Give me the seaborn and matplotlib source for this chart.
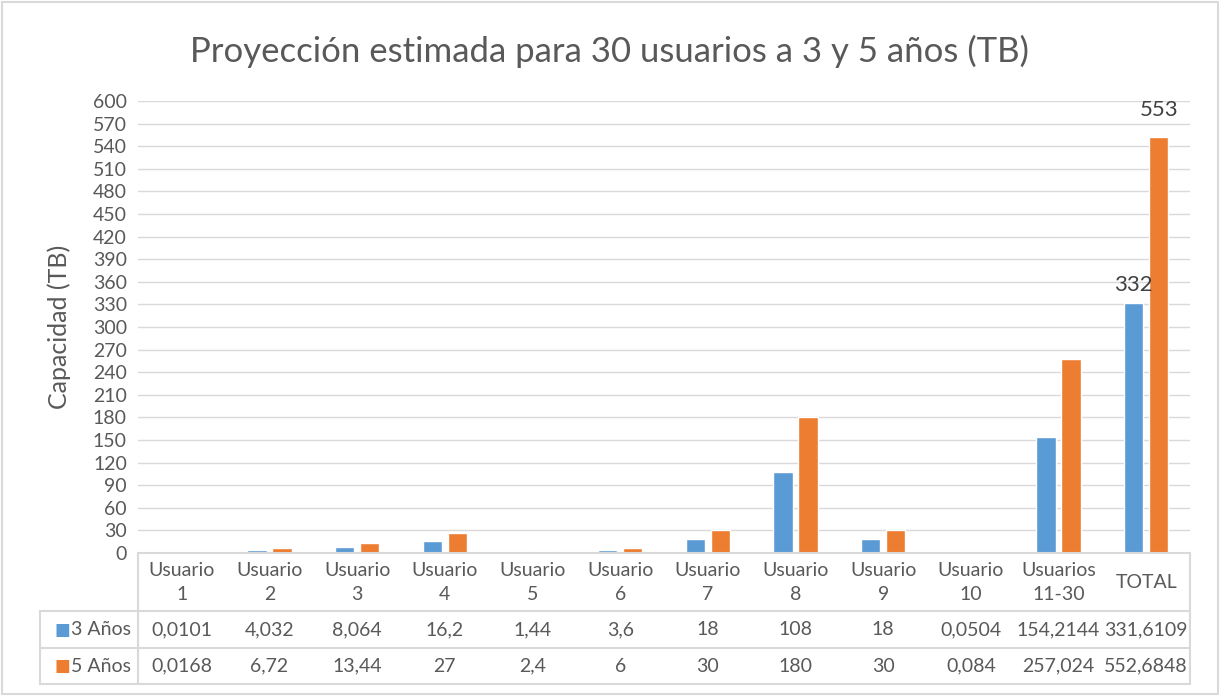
import matplotlib
matplotlib.use('Agg')
import matplotlib.pyplot as plt
import seaborn as sns
import pandas as pd

# datos
categorias = ['Usuario\n1', 'Usuario\n2', 'Usuario\n3', 'Usuario\n4', 'Usuario\n5', 'Usuario\n6',
              'Usuario\n7', 'Usuario\n8', 'Usuario\n9', 'Usuario\n10', 'Usuarios\n11-30', 'TOTAL']
tres_anios = [0.0101, 4.032, 8.064, 16.2, 1.44, 3.6, 18, 108, 18, 0.0504, 154.2144, 331.6109]
cinco_anios = [0.0168, 6.72, 13.44, 27, 2.4, 6, 30, 180, 30, 0.084, 257.024, 552.6848]
series = ['3 Años', '5 Años']
colores = ['#5B9BD5', '#ED7D31']

df = pd.DataFrame({
    'cat': categorias * 2,
    'valor': tres_anios + cinco_anios,
    'serie': [series[0]] * len(categorias) + [series[1]] * len(categorias),
})

gris = '#595959'
linea = '#D9D9D9'

sns.set_style('white')
plt.rcParams['font.family'] = ['Lato', 'DejaVu Sans']

fig = plt.figure(figsize=(12.2, 6.96), dpi=100)
W, H = 1220, 696
ax = fig.add_axes([138 / W, 1 - 553 / H, (1190 - 138) / W, (553 - 101) / H])

sns.barplot(data=df, x='cat', y='valor', hue='serie', palette=colores, width=0.57, gap=0.22,
            ax=ax, legend=False, saturation=1)

n = len(categorias)
ax.set_xlim(-0.5, n - 0.5)
ax.set_ylim(0, 600)
ax.set_yticks(range(0, 601, 30))
ax.tick_params(axis='y', labelsize=14, colors=gris, length=0, pad=8)
ax.set_xticks([])
ax.set_xlabel('')
ax.set_ylabel('Capacidad (TB)', fontsize=18, color=gris, labelpad=16)
ax.yaxis.grid(True, color=linea, linewidth=1)
ax.set_axisbelow(True)
for s in ax.spines.values():
    s.set_visible(False)

# etiquetas del TOTAL
ax.annotate(f'{tres_anios[-1]:.0f}', xy=(n - 1 - 0.1425, tres_anios[-1]), xytext=(0, 6),
            textcoords='offset points', ha='center', va='bottom', fontsize=16, color='#404040')
ax.annotate(f'{cinco_anios[-1]:.0f}', xy=(n - 1 + 0.1425, cinco_anios[-1]), xytext=(0, 12),
            textcoords='offset points', ha='center', va='bottom', fontsize=16, color='#404040')

fig.suptitle('Proyección estimada para 30 usuarios a 3 y 5 años (TB)', fontsize=25, color=gris, y=0.95)

# tabla de datos
tr = ax.get_xaxis_transform()
alto = 553 - 101
y1 = -(611 - 553) / alto
y2 = -(648 - 553) / alto
y3 = -(684 - 553) / alto
xl = -(138 - 40) / (1190 - 138)
kw = dict(transform=ax.transAxes, color=linea, linewidth=1.5, clip_on=False)
ax.plot([0, 1], [0, 0], **kw)
for y in (y1, y2, y3):
    ax.plot([xl, 1], [y, y], **kw)
ax.plot([xl, xl], [y1, y3], **kw)
ax.plot([0, 0], [0, y3], **kw)
ax.plot([1, 1], [0, y3], **kw)

def fmt(v):
    s = str(v)
    if s.endswith('.0'):
        s = s[:-2]
    return s.replace('.', ',')

for i, c in enumerate(categorias):
    ax.text(i, y1 / 2, c, transform=tr, ha='center', va='center', fontsize=14, color=gris,
            linespacing=1.5)
    ax.text(i, (y1 + y2) / 2, fmt(tres_anios[i]), transform=tr, ha='center', va='center',
            fontsize=14, color=gris)
    ax.text(i, (y2 + y3) / 2, fmt(cinco_anios[i]), transform=tr, ha='center', va='center',
            fontsize=14, color=gris)

for nombre, col, y in zip(series, colores, [(y1 + y2) / 2, (y2 + y3) / 2]):
    ax.text(xl + 0.014, y, '■', transform=ax.transAxes, ha='left', va='center', fontsize=12,
            color=col, family=['DejaVu Sans'])
    ax.text(xl + 0.029, y, nombre, transform=ax.transAxes, ha='left', va='center', fontsize=14,
            color=gris)

# borde del gráfico
fig.patches.append(plt.Rectangle((0.002, 0.003), 0.996, 0.994, transform=fig.transFigure,
                                 fill=False, edgecolor=linea, linewidth=1.5))

fig.savefig('out.png', dpi=100)
